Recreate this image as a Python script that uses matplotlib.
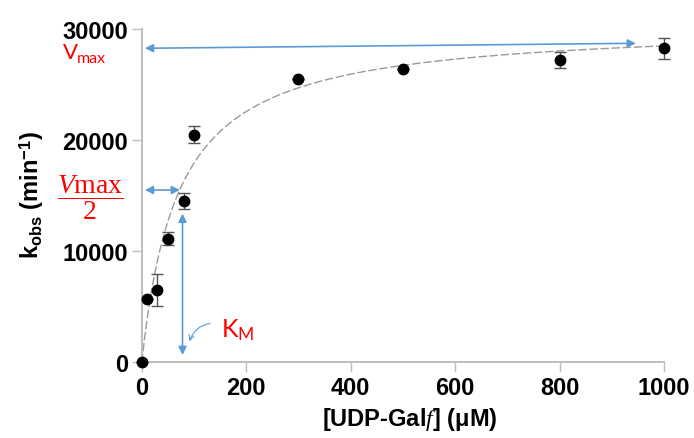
import numpy as np
import matplotlib
matplotlib.use("Agg")
import matplotlib.pyplot as plt
from matplotlib.patches import FancyArrowPatch

# data
conc = [0, 10, 30, 50, 80, 100, 300, 500, 800, 1000]          # [UDP-Galf] (uM)
kobs = [0, 5700, 6550, 11150, 14550, 20500, 25500, 26450, 27200, 28300]
kerr = [0, 0, 1450, 600, 700, 750, 0, 0, 720, 950]
x_ticks = [0, 200, 400, 600, 800, 1000]
y_ticks = [0, 10000, 20000, 30000]

# Michaelis-Menten fit shown as dashed line
vmax_fit = 30500
km_fit = 70

# annotation positions (data units)
vmax_line = (6, 28290, 946, 28740)
half_line = (6, 15520, 73, 15520)
km_line = (78, 13390, 78, 660)

plt.rcParams['font.family'] = ['Liberation Sans', 'DejaVu Sans']
plt.rcParams['mathtext.fontset'] = 'custom'
plt.rcParams['mathtext.rm'] = 'Liberation Serif'
plt.rcParams['mathtext.it'] = 'Liberation Serif:italic'
plt.rcParams['mathtext.bf'] = 'Liberation Sans:bold'
plt.rcParams['mathtext.sf'] = 'Lato'

blue = '#5b9bd5'
red = '#ff0000'
gray = '#bfbfbf'

fig = plt.figure(figsize=(6.94, 4.39), dpi=100)
ax = fig.add_axes([0.2043, 0.1724, 0.7525, 0.7586])

xs = np.linspace(0, 1000, 400)
ax.plot(xs, vmax_fit * xs / (km_fit + xs), color='#9a9a9a', lw=1,
        linestyle=(0, (6, 2)), zorder=2)

ax.errorbar(conc, kobs, yerr=kerr, fmt='o', color='black', ms=7.5,
            ecolor='#555555', elinewidth=1, capsize=4, capthick=1,
            clip_on=False, zorder=3)

ax.set_xlim(0, 1000)
ax.set_ylim(0, 30000)
ax.set_xticks(x_ticks)
ax.set_yticks(y_ticks)
for s in ['top', 'right']:
    ax.spines[s].set_visible(False)
for s in ['left', 'bottom']:
    ax.spines[s].set_color(gray)
    ax.spines[s].set_linewidth(1.5)
ax.tick_params(length=7, width=1, color=gray, labelsize=17, pad=3)
for lab in ax.get_xticklabels() + ax.get_yticklabels():
    lab.set_fontweight('bold')

fig.text(32 / 694, 1 - 195 / 439,
         r'k$_{\mathbf{obs}}$ (min$^{\mathbf{-1}}$)',
         rotation=90, fontsize=17, fontweight='bold', ha='center', va='center')
fig.text(410 / 694, 1 - 420 / 439, r'[UDP-Gal$\mathit{f}$] ($\mathbf{\mu}$M)',
         fontsize=17, fontweight='bold', ha='center', va='center')


def darrow(p):
    a = FancyArrowPatch((p[0], p[1]), (p[2], p[3]), arrowstyle='<|-|>',
                        mutation_scale=12, color=blue, lw=1.2, clip_on=False,
                        shrinkA=0, shrinkB=0, zorder=4)
    ax.add_patch(a)


darrow(vmax_line)
darrow(half_line)
darrow(km_line)

curl = FancyArrowPatch((136, 3540), (90, 1650), arrowstyle='->',
                       mutation_scale=9, color=blue, lw=0.8,
                       connectionstyle='arc3,rad=0.35', clip_on=False)
ax.add_patch(curl)

# V_max label as two plain texts so it sits snugly under the 30000 tick
fig.text(63 / 694, 1 - 59 / 439, 'V', color=red, family='Lato',
         fontsize=16, ha='left', va='baseline')
fig.text(77 / 694, 1 - 63 / 439, 'max', color=red, family='Lato',
         fontsize=11.5, ha='left', va='baseline')
fig.text(90 / 694, 1 - 198 / 439, r'$\dfrac{\mathit{V}\mathrm{max}}{2}$',
         color=red, fontsize=20, ha='center', va='center')
fig.text(238 / 694, 1 - 330 / 439, r'$\mathsf{K}_{\mathsf{M}}$', color=red,
         fontsize=18, ha='center', va='center')

fig.savefig('out.png', dpi=100)
